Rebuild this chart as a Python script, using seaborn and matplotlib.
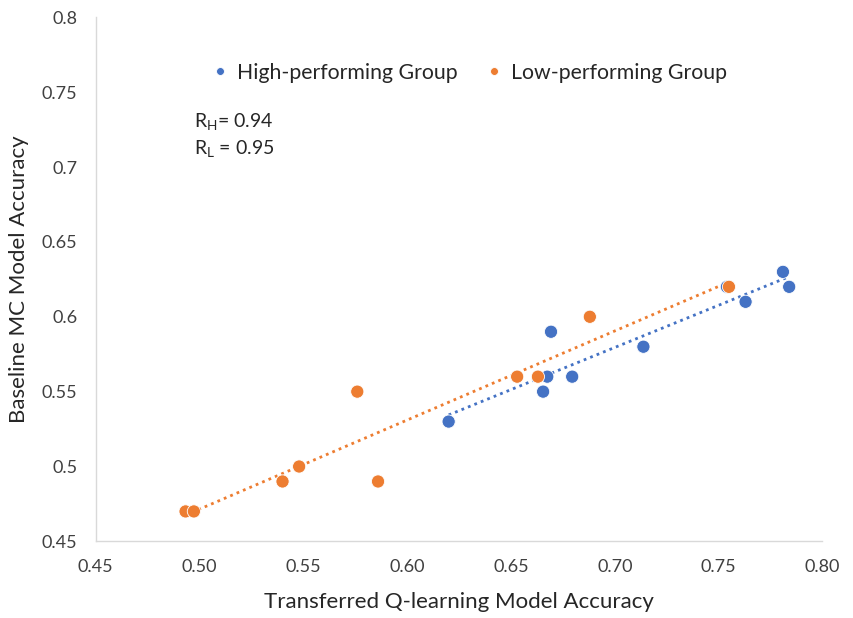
import numpy as np
import pandas as pd
import matplotlib.pyplot as plt
import seaborn as sns

# values
high_x = [0.620, 0.6655, 0.6675, 0.6693, 0.6795, 0.7138, 0.754, 0.763, 0.781, 0.784]
high_y = [0.53, 0.55, 0.56, 0.59, 0.56, 0.58, 0.62, 0.61, 0.63, 0.62]
low_x = [0.4933, 0.4973, 0.540, 0.548, 0.576, 0.586, 0.653, 0.663, 0.688, 0.755]
low_y = [0.47, 0.47, 0.49, 0.50, 0.55, 0.49, 0.56, 0.56, 0.60, 0.62]
x_ticks = [0.45, 0.50, 0.55, 0.60, 0.65, 0.70, 0.75, 0.80]
y_ticks = [0.45, 0.5, 0.55, 0.6, 0.65, 0.7, 0.75, 0.8]

blue = '#4472C4'
orange = '#ED7D31'

df = pd.concat([
    pd.DataFrame({'x': high_x, 'y': high_y, 'group': 'High-performing Group'}),
    pd.DataFrame({'x': low_x, 'y': low_y, 'group': 'Low-performing Group'}),
])

sns.set_style('white')
plt.rcParams['font.family'] = ['Lato', 'DejaVu Sans']

fig = plt.figure(figsize=(8.54, 6.18), dpi=100)
ax = fig.add_axes([0.112, 0.124, 0.851, 0.848])

# dotted linear trendlines
sns.regplot(data=df[df.group == 'High-performing Group'], x='x', y='y', scatter=False, ci=None,
            color=blue, line_kws={'linestyle': (0, (1, 1.5)), 'linewidth': 2}, ax=ax)
sns.regplot(data=df[df.group == 'Low-performing Group'], x='x', y='y', scatter=False, ci=None,
            color=orange, line_kws={'linestyle': (0, (1, 1.5)), 'linewidth': 2}, ax=ax)

sns.scatterplot(data=df, x='x', y='y', hue='group', palette=[blue, orange], s=90,
                edgecolor='white', linewidth=0.6, ax=ax, zorder=3)

ax.set_xlim(0.45, 0.80)
ax.set_ylim(0.45, 0.80)
ax.set_xticks(x_ticks)
ax.set_xticklabels([f'{v:.2f}' for v in x_ticks], fontsize=13, color='#404040')
ax.set_yticks(y_ticks)
ax.set_yticklabels([f'{v:g}' for v in y_ticks], fontsize=13, color='#404040')
ax.tick_params(length=0, pad=13)
ax.set_xlabel('Transferred Q-learning Model Accuracy', fontsize=16, color='#262626', labelpad=12)
ax.set_ylabel('Baseline MC Model Accuracy', fontsize=16, color='#262626', labelpad=9)

sns.despine(ax=ax)
for s in ['left', 'bottom']:
    ax.spines[s].set_color('#d9d9d9')
    ax.spines[s].set_linewidth(1)

leg = ax.legend(loc='upper center', bbox_to_anchor=(0.505, 0.95), ncol=2, frameon=False,
                fontsize=15.3, markerscale=0.6, handletextpad=-0.2, columnspacing=0.7)
for t in leg.get_texts():
    t.set_color('#262626')

ax.text(0.136, 0.79, r'R$_\mathregular{H}$= 0.94', transform=ax.transAxes, fontsize=14, color='#262626')
ax.text(0.136, 0.738, r'R$_\mathregular{L}$ = 0.95', transform=ax.transAxes, fontsize=14, color='#262626')

fig.savefig('out.png', dpi=100)
